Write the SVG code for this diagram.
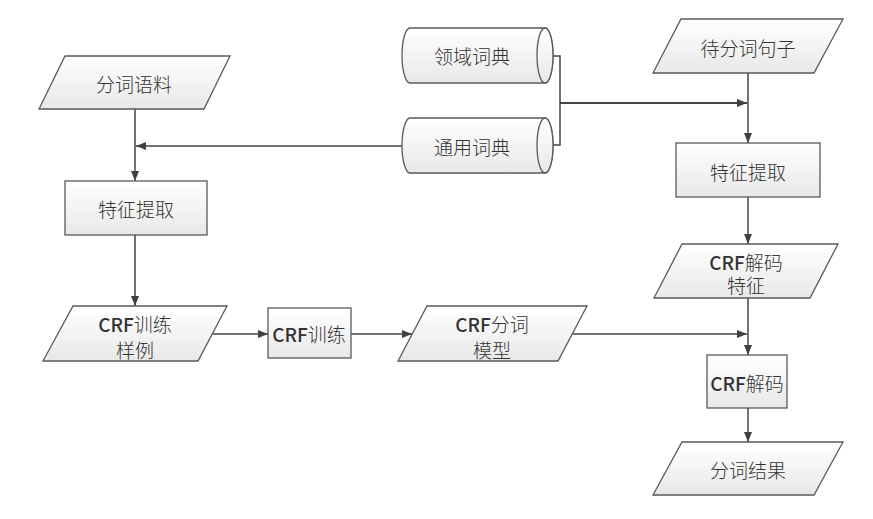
<svg xmlns="http://www.w3.org/2000/svg" width="873" height="519" viewBox="0 0 873 519">
<defs>
<linearGradient id="g" x1="0" y1="0" x2="0" y2="1">
<stop offset="0" stop-color="#ffffff"/>
<stop offset="1" stop-color="#e8e8e8"/>
</linearGradient>
<marker id="ah" viewBox="0 0 10 10" refX="10" refY="5" markerWidth="10" markerHeight="10" markerUnits="userSpaceOnUse" orient="auto">
<path d="M0,1 L10,5 L0,9 Z" fill="#404040"/>
</marker>
<style>
.s{fill:url(#g);stroke:#5a5a5a;stroke-width:1.3}
.t{font-family:"Noto Sans CJK SC","Noto Sans",sans-serif;font-size:19px;font-weight:300;fill:#333;text-anchor:middle;dominant-baseline:central}
.c{font-weight:500}
.l{fill:none;stroke:#444;stroke-width:1.5}
.la{fill:none;stroke:#444;stroke-width:1.5;marker-end:url(#ah)}
</style>
</defs>
<rect width="873" height="519" fill="#fff"/>
<g id="connectors">
<path class="la" d="M135,109 V181"/>
<path class="la" d="M402,146 H136"/>
<path class="la" d="M135,235 V306"/>
<path class="la" d="M212,334 H268"/>
<path class="la" d="M351,334 H412"/>
<path class="la" d="M572,334 H747"/>
<path class="l" d="M545,56 H560 V145 H545"/>
<path class="la" d="M560,103 H747" style="stroke-width:2"/>
<path class="la" d="M748,73 V143"/>
<path class="la" d="M748,197 V244"/>
<path class="la" d="M748,298 V355"/>
<path class="la" d="M748,408 V442"/>
</g>
<g id="n1"><path class="s" d="M65,56 H230 L204,109 H39 Z"/><text class="t" x="134" y="83">分词语料</text></g>
<g id="n2"><rect class="s" x="65" y="181" width="142" height="54"/><text class="t" x="136" y="208">特征提取</text></g>
<g id="n3"><path class="s" d="M73,306 H227 L198,361 H43 Z"/><text class="t" x="135" y="323"><tspan class="c">CRF</tspan>训练</text><text class="t" x="135" y="349">样例</text></g>
<g id="n4"><rect class="s" x="268" y="308" width="83" height="50"/><text class="t" x="309" y="333"><tspan class="c">CRF</tspan>训练</text></g>
<g id="n5"><path class="s" d="M427,306 H587 L558,361 H398 Z"/><text class="t" x="492" y="323"><tspan class="c">CRF</tspan>分词</text><text class="t" x="492" y="349">模型</text></g>
<g id="n6"><path class="s" d="M410,28 H545 A8,27.5 0 0 1 545,83 H410 A8,27.5 0 0 1 410,28 Z"/><ellipse class="s" cx="545" cy="55.5" rx="8" ry="27.5"/><text class="t" x="472" y="55">领域词典</text></g>
<g id="n7"><path class="s" d="M410,118 H545 A8,27.5 0 0 1 545,173 H410 A8,27.5 0 0 1 410,118 Z"/><ellipse class="s" cx="545" cy="145.5" rx="8" ry="27.5"/><text class="t" x="472" y="146">通用词典</text></g>
<g id="n8"><path class="s" d="M681,19 H843 L814,73 H653 Z"/><text class="t" x="748" y="47">待分词句子</text></g>
<g id="n9"><rect class="s" x="676" y="143" width="144" height="54"/><text class="t" x="748" y="171">特征提取</text></g>
<g id="n10"><path class="s" d="M682,244 H838 L810,298 H654 Z"/><text class="t" x="746" y="261"><tspan class="c">CRF</tspan>解码</text><text class="t" x="746" y="284">特征</text></g>
<g id="n11"><rect class="s" x="707" y="355" width="80" height="53"/><text class="t" x="747" y="382"><tspan class="c">CRF</tspan>解码</text></g>
<g id="n12"><path class="s" d="M682,442 H843 L814,495 H653 Z"/><text class="t" x="748" y="469">分词结果</text></g>
</svg>
